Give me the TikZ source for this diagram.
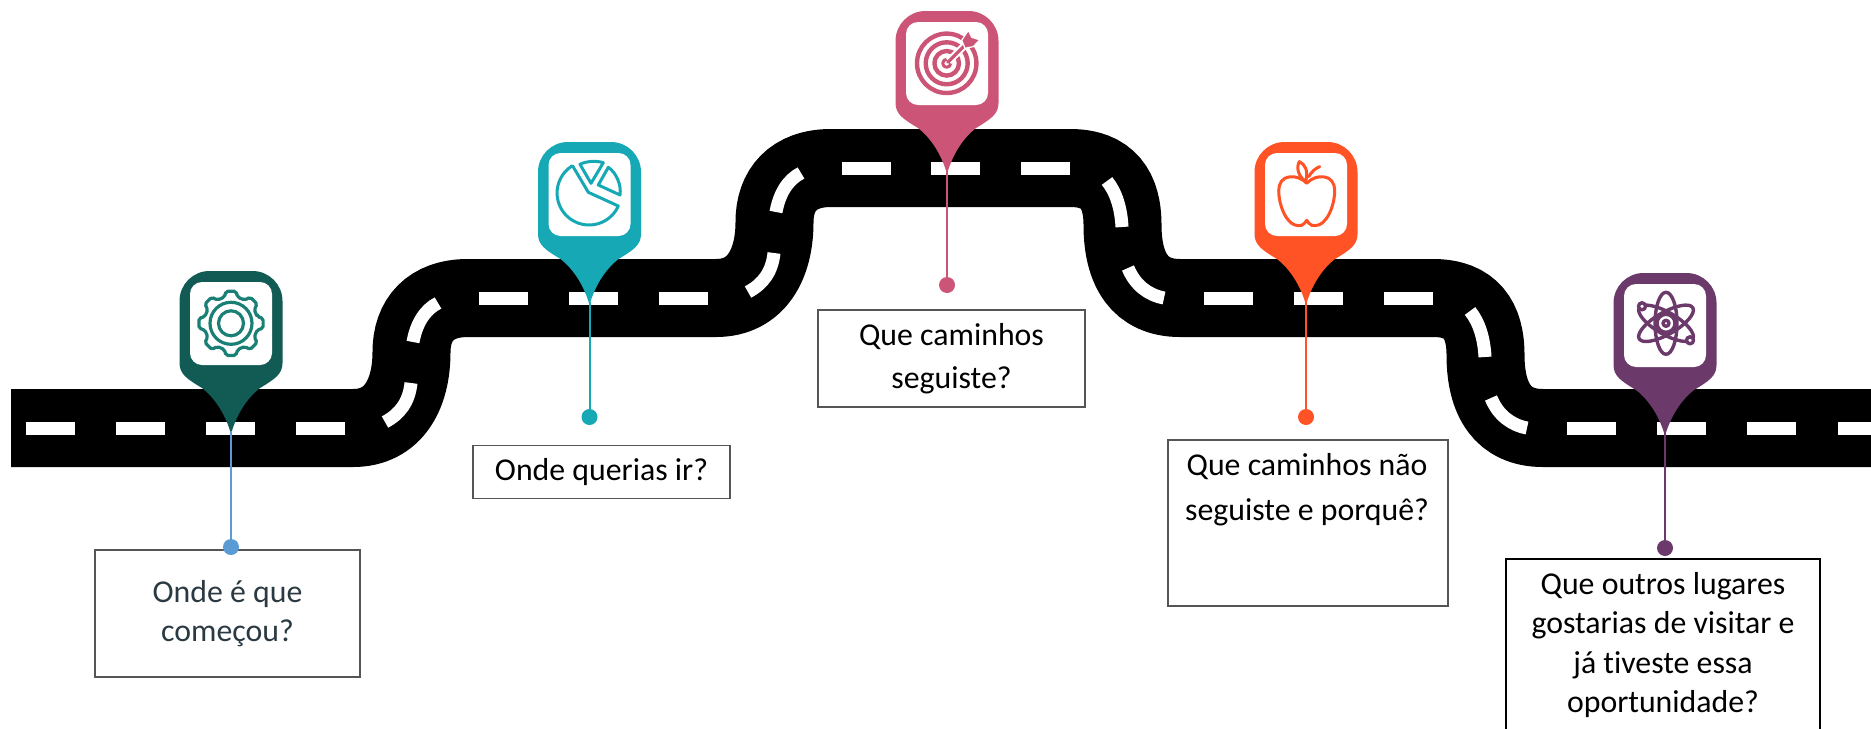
\documentclass[tikz,border=0pt]{standalone}
\usepackage{fontspec}
\setmainfont{Carlito}[Ligatures={NoCommon}]
\usepackage{xcolor}
\usetikzlibrary{positioning}

\definecolor{gearpin}{HTML}{125B55}
\definecolor{gearline}{HTML}{1A8075}
\definecolor{piepin}{HTML}{17A8B5}
\definecolor{targetpin}{HTML}{CC5577}
\definecolor{applepin}{HTML}{FF5225}
\definecolor{atompin}{HTML}{6B3A6B}
\definecolor{firststem}{HTML}{5B9BD5}
\definecolor{firsttext}{HTML}{2B3A42}
\definecolor{boxline}{HTML}{555555}

\begin{document}
\begin{tikzpicture}[x=0.5pt,y=-0.5pt]

\edef\sizeroad{39pt}
\edef\sizedash{6.5pt}
\tikzstyle{road}=[line width=\sizeroad,black]
\tikzstyle{lane}=[line width=\sizedash,white]
\tikzstyle{qbox}=[draw=boxline,line width=0.7pt,fill=white,inner sep=0pt,align=center,
    font=\fontsize{15.9}{19.8}\selectfont]
\tikzstyle{qtext}=[inner sep=0pt,align=center,font=\fontsize{15.9}{19.6}\selectfont]
\tikzstyle{stemdot}=[circle,inner sep=0pt,minimum size=8pt]
\tikzstyle{icon}=[line width=1.5pt,line join=round,line cap=round]

\useasboundingbox (0,0) rectangle (1871,728);
\clip (0,0) rectangle (1871,728);

%% Draw road
\draw[road] (11,428) -- (353,428)
    .. controls (393,428) and (411.5,395) .. (411.5,352)
    .. controls (411.5,320) and (430,298) .. (468,298) -- (716,298)
    .. controls (756,298) and (774.5,265) .. (774.5,222)
    .. controls (774.5,190) and (793,168) .. (831,168) -- (1070,168)
    .. controls (1108,168) and (1122.5,190) .. (1122.5,225)
    .. controls (1122.5,270) and (1140,298) .. (1180,298) -- (1433,298)
    .. controls (1471,298) and (1485.5,320) .. (1485.5,355)
    .. controls (1485.5,400) and (1503,428) .. (1543,428) -- (1880,428);

%% Lane marks
\foreach \lx/\ly in {26/428.5,116/428.5,206/428.5,296/428.5,
    479/298,569/298,659/298,
    842/168,931/168,1021/168,
    1204/298,1294/298,1384/298,
    1567/428.5,1657/428.5,1747/428.5,1838/428.5} {
    \draw[lane] (\lx,\ly) -- ++(49,0);
}
\foreach \sx/\sy in {0/0,363/-130} {
    \draw[lane,shift={(\sx,\sy)}] (385,422) .. controls (400,414) and (409,402) .. (411,383);
    \draw[lane,shift={(\sx,\sy)}] (413,342) .. controls (416,325) and (424,310) .. (438,303);
}
\foreach \sx/\sy in {0/0,363/130} {
    \draw[lane,shift={(\sx,\sy)}] (1107,181) .. controls (1116,192) and (1121,208) .. (1122,227);
    \draw[lane,shift={(\sx,\sy)}] (1128,268) .. controls (1135,285) and (1148,295) .. (1164,298);
}

%% Question boxes
\node[qbox,minimum width=132.5pt,minimum height=63.5pt,text=firsttext] (box1) at (227.5,613.5)
    {Onde é que\\começou?};
\node[qbox,minimum width=128.5pt,minimum height=26.5pt] (box2) at (601.5,472) {Onde querias ir?};
\node[qbox,minimum width=133.5pt,minimum height=48.5pt,
    font=\fontsize{15.9}{21.8}\selectfont] (box3) at (951.5,358.5) {Que caminhos\\seguiste?};
\node[qbox,minimum width=140pt,minimum height=83pt] (box4) at (1308,523) {};
\node[qbox,draw=black,line width=0.9pt,minimum width=157pt,minimum height=100pt] (box5) at (1663,659) {};
\node[qtext,font=\fontsize{15.9}{22.5}\selectfont] (text4) at (1307,490) {Que caminhos não\\seguiste e porquê?};
\node[qtext] (text5) at (1663,645) {Que outros lugares\\gostarias de visitar e\\já tiveste essa\\oportunidade?};

%% Pins with their stems
\foreach \i/\cx/\ty/\dy/\pincol/\stemcol in {
    1/231/271/547/gearpin/firststem,
    2/589.5/142/417/piepin/piepin,
    3/947/11/285/targetpin/targetpin,
    4/1306/142/417/applepin/applepin,
    5/1665/273/548/atompin/atompin} {
    \begin{scope}[shift={(\cx,\ty)}]
        \coordinate (tip\i) at (0,160);
        \fill[\pincol] (-51.5,92) -- (-51.5,30) arc[start angle=180,end angle=270,radius=30]
            -- (21.5,0) arc[start angle=270,end angle=360,radius=30] -- (51.5,92)
            .. controls (51.5,103) and (44,108) .. (29,117)
            .. controls (15,128) and (5,145) .. (0,163)
            .. controls (-5,145) and (-15,128) .. (-29,117)
            .. controls (-44,108) and (-51.5,103) .. (-51.5,92) -- cycle;
        \fill[white,rounded corners=6pt] (-41,11) rectangle (41,94);
    \end{scope}
    \node[stemdot,fill=\stemcol] (dot\i) at (\cx,\dy) {};
    \draw[\stemcol,line width=1pt] (tip\i) -- (dot\i);
}

%% Gear
\begin{scope}[shift={(231,323.3)},icon,draw=gearline,line width=1.6pt]
    \draw[rounded corners=1pt] (-14:27) \foreach \a in {0,45,...,315} {
        -- (\a-14:27) -- (\a-9:32.5) -- (\a+9:32.5) -- (\a+14:27)} -- cycle;
    \draw (0,0) circle (21);
    \draw (0,0) circle (12.5);
\end{scope}

%% Pie
\begin{scope}[shift={(589.5,193)},icon,draw=piepin]
    \draw (-16.8,-27) -- (-1.2,-0.7) -- (28.8,13) arc[start angle=24,end angle=238,radius=32];
    \draw (-9.5,-28.7) .. controls (-3,-32) and (7,-32.5) .. (13.8,-30.3) -- (1.5,-9.7) -- cycle;
    \draw (18.8,-25.7) .. controls (27,-20) and (32,-8) .. (30.5,2) -- (8.8,-8) -- cycle;
\end{scope}

%% Target
\begin{scope}[shift={(946.7,63.3)},icon,draw=targetpin,line width=2.2pt]
    \draw (0,0) circle (29.7);
    \draw (0,0) circle (21);
    \draw (0,0) circle (12.3);
    \draw[line width=1.5pt] (0,0) circle (4);
    \draw[white,line width=3.6pt,line cap=butt] (2,-2) -- (20,-20);
    \draw[line width=1.6pt] (1,-1) -- (20,-20);
    \fill[targetpin,draw=white,line width=0.6pt] (15,-23) -- (21.7,-33) -- (25,-26) -- (33,-23.5)
        -- (26.7,-16.7) -- (18.3,-15) -- cycle;
\end{scope}

%% Apple
\begin{scope}[shift={(1306.7,193.3)},icon,draw=applepin]
    \draw (0,-10) .. controls (-6,-16) and (-12,-17) .. (-17,-16.5)
        .. controls (-24,-16) and (-28,-10) .. (-28,-3)
        .. controls (-28,8) and (-24,20) .. (-19,26)
        .. controls (-15,32) and (-9,33) .. (-5,32)
        .. controls (-3,31) and (-1,29) .. (0,27)
        .. controls (1,29) and (3,31) .. (5,32)
        .. controls (9,33) and (15,32) .. (19,26)
        .. controls (24,20) and (28,8) .. (28,-3)
        .. controls (28,-10) and (24,-16) .. (17,-16.5)
        .. controls (12,-17) and (6,-16) .. (0,-10) -- cycle;
    \draw (-1,-12) .. controls (-8,-16) and (-11,-26) .. (-7.3,-31.7)
        .. controls (-2,-29) and (2,-23) .. (-1,-12) -- cycle;
    \draw (2,-16.7) .. controls (5,-22) and (9,-25) .. (13,-26.7);
\end{scope}

%% Atom
\begin{scope}[shift={(1666,323.3)},icon,draw=atompin,line width=1.7pt]
    \draw (0,0) ellipse (11 and 31);
    \draw[rotate=60] (0,0) ellipse (11 and 31);
    \draw[rotate=-60] (0,0) ellipse (11 and 31);
    \draw[fill=white] (0,0) circle (9);
    \draw (0,0) circle (3);
    \draw[fill=white] (-24,-17) circle (3.5);
    \draw[fill=white] (24,17) circle (3.5);
\end{scope}

\end{tikzpicture}
\end{document}
